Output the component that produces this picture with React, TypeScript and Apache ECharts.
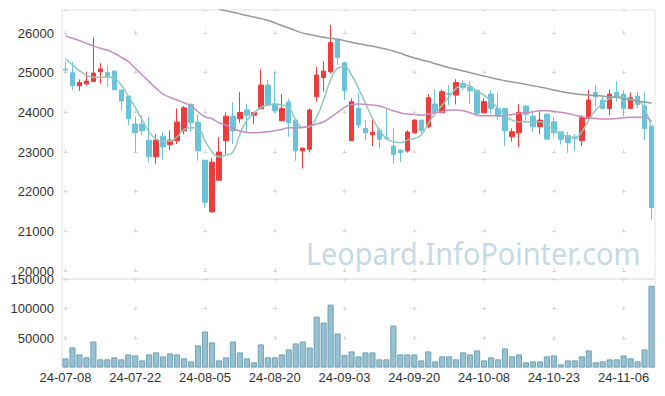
import { useEffect, useRef } from 'react';
import * as echarts from 'echarts';

const dates = [
  '24-07-08','24-07-09','24-07-10','24-07-11','24-07-12',
  '24-07-15','24-07-16','24-07-17','24-07-18','24-07-19',
  '24-07-22','24-07-23','24-07-24','24-07-25','24-07-26',
  '24-07-29','24-07-30','24-07-31','24-08-01','24-08-02',
  '24-08-05','24-08-06','24-08-07','24-08-08','24-08-09',
  '24-08-12','24-08-13','24-08-14','24-08-16','24-08-19',
  '24-08-20','24-08-21','24-08-22','24-08-23','24-08-26',
  '24-08-27','24-08-28','24-08-29','24-08-30','24-09-02',
  '24-09-03','24-09-04','24-09-05','24-09-06','24-09-09',
  '24-09-10','24-09-11','24-09-12','24-09-13','24-09-19',
  '24-09-20','24-09-23','24-09-24','24-09-25','24-09-26',
  '24-09-27','24-09-30','24-10-02','24-10-04','24-10-07',
  '24-10-08','24-10-10','24-10-11','24-10-14','24-10-15',
  '24-10-16','24-10-17','24-10-18','24-10-21','24-10-22',
  '24-10-23','24-10-24','24-10-25','24-10-28','24-10-29',
  '24-10-30','24-10-31','24-11-01','24-11-04','24-11-05',
  '24-11-06','24-11-07','24-11-08','24-11-11','24-11-12',
];

const opens = [
  25090,25000,24670,24720,24775,25025,25000,25040,24565,24410,
  23705,23705,23300,22880,23400,23190,23285,23535,24200,23755,
  22795,21490,22290,23285,23905,23840,24060,23930,24090,24690,
  24210,23790,24260,23805,23030,23070,24395,24875,25025,25810,
  25250,23285,24100,23595,23435,23550,23360,23150,23050,23030,
  23485,23805,23636,24210,23990,24470,24435,24730,24630,24560,
  23990,24460,24100,24100,23385,23485,24160,23905,23636,23955,
  23763,23510,23410,23370,23285,23850,24505,24310,24100,24505,
  24460,24100,24410,24160,23655,
];
const closes = [
  25070,24670,24750,24790,24990,25095,24890,24570,24285,23840,
  23485,23535,22880,23300,23130,23300,23755,24115,23737,23030,
  21735,22745,23000,23905,23530,24000,23930,24000,24690,24185,
  24040,24100,23737,23030,23100,24060,24942,25040,25760,25390,
  24545,24270,23680,23485,23495,23325,23345,22940,22985,23505,
  23805,23535,24370,23990,24520,24455,24750,24630,24545,23970,
  24270,24100,23905,23535,23510,24000,23950,23636,23805,23325,
  23485,23325,23240,23345,23865,24310,24395,24100,24460,24395,
  24100,24370,24200,23595,21600,
];
const lows = [
  24990,24560,24545,24670,24770,24730,24650,24560,24050,23680,
  22990,23425,22740,22695,22795,23050,23200,23445,23500,22780,
  21590,21490,22290,22940,23200,23737,23510,23705,24090,24185,
  23990,23790,23385,22780,22585,22990,24270,24520,24985,25190,
  24310,23285,23595,23300,23150,23090,23300,22710,22750,22985,
  23460,23440,23595,23930,23990,24185,24200,24560,24210,23900,
  23970,23970,23805,23150,23260,23130,23800,23510,23450,23325,
  23385,23190,22980,23030,23150,23830,24140,24100,23930,24270,
  23900,24100,24100,23300,21300,
];
const highs = [
  25280,25270,24830,25025,25890,25240,25185,25050,24565,24410,
  23890,23930,23890,23445,23510,23545,24100,24160,24230,23950,
  22795,22840,23385,24000,24250,24510,24210,24000,25085,24815,
  25025,24460,24345,23830,23100,24100,25150,25280,26200,25850,
  25280,24350,24495,23805,23850,23595,24100,23595,23050,23550,
  23830,23805,24460,24580,24580,24690,24835,24800,24790,24560,
  24350,24560,24505,24100,23595,24210,24160,24015,24058,23955,
  23875,23510,23510,23450,23930,24560,24690,24410,24580,24790,
  24560,24505,24520,24500,23655,
];

const volumes = [
  15500,34000,22200,17200,44100,13800,13800,17200,13800,22200,
  20500,12100,22200,25600,18900,23900,22200,15500,10400,37400,
  61000,42500,12100,17200,44100,25600,15500,8800,39100,17200,
  17200,22200,30700,40800,44100,34000,86300,76200,106500,57600,
  21100,27300,18900,25600,25600,13800,13800,71100,22200,22200,
  22200,12100,27300,10400,18900,18900,13800,25600,22200,29000,
  12100,17200,13800,32400,18900,22200,8800,10400,10400,18900,
  20500,5400,12100,12100,18900,29000,8800,10400,13800,13800,
  20500,15500,10400,30700,138500,
];

const ma5 = [
  25350,25195,25050,24942,24884,24884,24900,24857,24690,24410,
  24125,23805,23510,23325,23275,23275,23385,23570,23610,23595,
  23283,23010,22880,22922,23000,23450,23800,23977,24126,24185,
  24210,24185,24126,23805,23620,23636,23890,24310,24815,25110,
  25150,24942,24605,24227,23850,23553,23343,23258,23232,23300,
  23343,23427,23722,23977,24185,24394,24605,24690,24665,24520,
  24436,24268,24110,23930,23805,23763,23763,23763,23763,23679,
  23553,23470,23385,23368,23510,23805,24058,24210,24353,24394,
  24378,24328,24293,24100,23610,
];
const ma20 = [
  25934,25866,25808,25740,25674,25616,25573,25489,25389,25278,
  25110,24942,24775,24605,24462,24378,24310,24243,24160,24015,
  23890,23840,23737,23679,23595,23528,23494,23485,23494,23510,
  23535,23570,23610,23610,23620,23654,23705,23763,23874,24000,
  24126,24200,24210,24200,24185,24160,24100,24040,23990,23957,
  23948,23930,23957,23990,24015,24058,24058,24040,23990,23930,
  23914,23914,23910,23923,23948,23973,23990,24015,24040,24040,
  24023,24000,23973,23930,23890,23864,23848,23830,23830,23848,
  23864,23874,23874,23874,23763,
];
const ma60 = [
  null,null,null,null,null,null,null,null,null,null,
  null,null,null,null,null,null,null,null,null,null,
  null,null,26600,26560,26522,26482,26442,26404,26363,26322,
  26255,26190,26126,26060,25997,25960,25927,25892,25866,25840,
  25806,25765,25730,25700,25665,25630,25590,25548,25489,25428,
  25370,25320,25280,25227,25177,25126,25084,25043,25000,24957,
  24916,24873,24832,24797,24765,24740,24705,24670,24640,24605,
  24563,24528,24495,24470,24453,24436,24428,24410,24394,24378,
  24343,24310,24285,24260,24227,
];

const priceMin = 19800;
const priceMax = 26580;
const volMax = 150000;
const volInterval = 50000;
const watermark = 'Leopard.InfoPointer.com';

const UP = '#ee3b3b';
const DOWN = '#6bc3d9';
const CROSS = '#d6d6d6';
const BORDER = '#e3e3e3';
const LABEL = '#333333';
const FONT = 'Liberation Sans';

export default function App() {
  const ref = useRef<HTMLDivElement>(null);

  useEffect(() => {
    document.body.style.margin = '0';
    if (!ref.current) return;
    const chart = echarts.init(ref.current, null, { renderer: 'svg' });

    const candleData = opens.map((o, i) => [o, closes[i], lows[i], highs[i]]);
    const plain = (v: number) => String(v);

    const option: any = {
      animation: false,
      backgroundColor: '#ffffff',
      textStyle: { fontFamily: FONT },
      graphic: [
        {
          type: 'text',
          x: 306,
          y: 253,
          scaleX: 0.93,
          silent: true,
          z: 0,
          style: {
            text: watermark,
            fill: '#c6d9e5',
            fontSize: 31,
            fontFamily: 'Noto Sans',
            textAlign: 'left',
            align: 'left',
            textVerticalAlign: 'middle',
            verticalAlign: 'middle',
          },
        },
      ],
      grid: [
        { left: 62, right: 10, top: 10, height: 269, show: true, borderColor: BORDER, borderWidth: 1 },
        { left: 62, right: 10, top: 279, height: 88.5, show: true, borderColor: BORDER, borderWidth: 1 },
      ],
      xAxis: [
        {
          type: 'category',
          gridIndex: 0,
          data: dates,
          boundaryGap: true,
          axisLine: { show: false },
          axisTick: { show: false },
          axisLabel: { show: false },
          splitLine: {
            show: true,
            interval: 9,
            alignWithLabel: true,
            lineStyle: { color: CROSS, width: 1, type: [4, 35.6], dashOffset: 18.6 },
          },
        },
        {
          type: 'category',
          gridIndex: 1,
          data: dates,
          boundaryGap: true,
          axisLine: { show: false },
          axisTick: { show: false },
          axisLabel: { show: true, interval: 9, margin: 3, color: LABEL, fontSize: 13, fontFamily: FONT },
          splitLine: {
            show: true,
            interval: 9,
            alignWithLabel: true,
            lineStyle: { color: CROSS, width: 1, type: [4, 25.5], dashOffset: 2 },
          },
        },
      ],
      yAxis: [
        {
          type: 'value',
          gridIndex: 0,
          min: priceMin,
          max: priceMax,
          axisLine: { show: false },
          axisTick: { show: false },
          axisLabel: {
            showMinLabel: false,
            showMaxLabel: false,
            color: LABEL,
            fontSize: 13,
            fontFamily: FONT,
            margin: 8,
            formatter: plain,
          },
          splitLine: {
            show: true,
            lineStyle: { color: CROSS, width: 1, type: [4, 65.765], dashOffset: 68.26 },
          },
        },
        {
          type: 'value',
          gridIndex: 1,
          min: 0,
          max: volMax,
          interval: volInterval,
          axisLine: { show: false },
          axisTick: { show: false },
          axisLabel: {
            showMinLabel: false,
            color: LABEL,
            fontSize: 13,
            fontFamily: FONT,
            margin: 8,
            formatter: plain,
          },
          splitLine: {
            show: true,
            lineStyle: { color: CROSS, width: 1, type: [4, 65.765], dashOffset: 68.26 },
          },
        },
      ],
      series: [
        {
          type: 'candlestick',
          xAxisIndex: 0,
          yAxisIndex: 0,
          data: candleData,
          barWidth: '72%',
          itemStyle: { color: UP, color0: DOWN, borderColor: UP, borderColor0: DOWN, borderWidth: 1 },
        },
        {
          type: 'line',
          name: 'MA5',
          xAxisIndex: 0,
          yAxisIndex: 0,
          data: ma5,
          smooth: true,
          symbol: 'none',
          showSymbol: false,
          lineStyle: { color: '#8dcabe', width: 1.5 },
        },
        {
          type: 'line',
          name: 'MA20',
          xAxisIndex: 0,
          yAxisIndex: 0,
          data: ma20,
          smooth: true,
          symbol: 'none',
          showSymbol: false,
          lineStyle: { color: '#c88cc4', width: 1.5 },
        },
        {
          type: 'line',
          name: 'MA60',
          xAxisIndex: 0,
          yAxisIndex: 0,
          data: ma60,
          smooth: true,
          symbol: 'none',
          showSymbol: false,
          lineStyle: { color: '#999999', width: 1.5 },
        },
        {
          type: 'bar',
          xAxisIndex: 1,
          yAxisIndex: 1,
          data: volumes,
          barCategoryGap: '12%',
          itemStyle: { color: '#97c0d0', borderColor: '#72a2b7', borderWidth: 1 },
        },
      ],
    };

    chart.setOption(option);
    return () => {
      chart.dispose();
    };
  }, []);

  return (
    <div
      ref={ref}
      style={{ position: 'fixed', left: 0, top: 0, width: 665, height: 396 }}
    />
  );
}
